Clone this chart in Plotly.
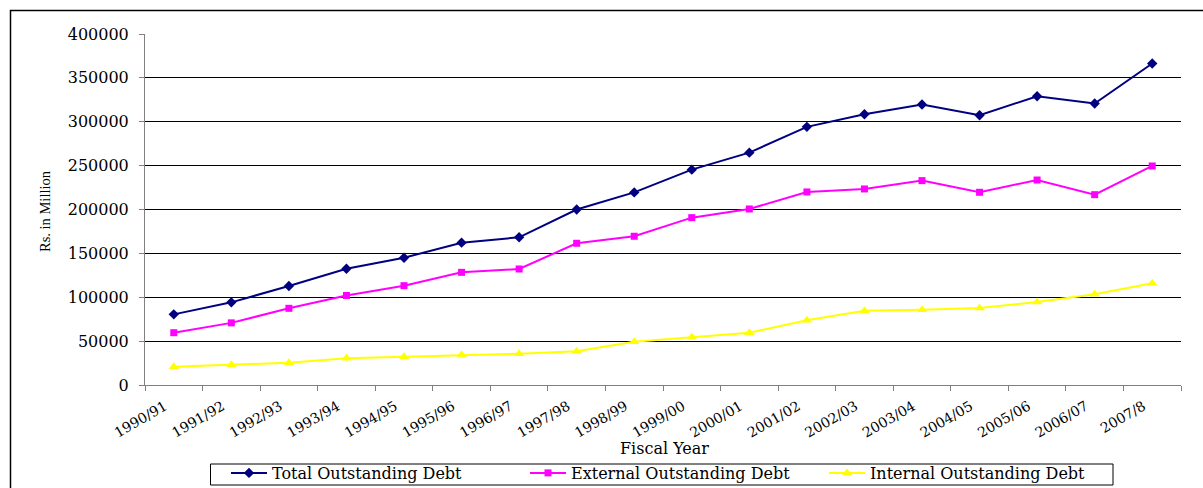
import plotly.graph_objects as go

years = ["1990/91", "1991/92", "1992/93", "1993/94", "1994/95", "1995/96", "1996/97",
         "1997/98", "1998/99", "1999/00", "2000/01", "2001/02", "2002/03", "2003/04",
         "2004/05", "2005/06", "2006/07", "2007/8"]
total_debt = [80500, 94200, 112800, 132500, 145000, 162200, 168300, 200000, 219500,
              245400, 264800, 294200, 308600, 319600, 307400, 329100, 320800, 366400]
external_debt = [59600, 70800, 87400, 102000, 113200, 128400, 132200, 161500, 169500,
                 190700, 200600, 220000, 223400, 232900, 219600, 233600, 216900, 249600]
internal_debt = [20900, 23200, 25400, 30600, 32300, 34200, 35700, 38500, 49400,
                 54400, 59600, 73700, 84700, 85800, 87700, 94600, 103300, 115900]

W, H = 1203, 488
L, R, T, B = 145, 22, 34, 103
pw, ph = W - L - R, H - T - B

def px_x(x):
    return (x - L) / pw

def px_y(y):
    return (H - B - y) / ph

fig = go.Figure()
fig.add_trace(go.Scatter(x=years, y=total_debt, name="Total Outstanding Debt",
                         mode="lines+markers",
                         line=dict(color="#000080", width=2),
                         marker=dict(symbol="diamond", size=8, color="#000080")))
fig.add_trace(go.Scatter(x=years, y=external_debt, name="External Outstanding Debt",
                         mode="lines+markers",
                         line=dict(color="#FF00FF", width=2),
                         marker=dict(symbol="square", size=7, color="#FF00FF")))
fig.add_trace(go.Scatter(x=years, y=internal_debt, name="Internal Outstanding Debt",
                         mode="lines+markers",
                         line=dict(color="#FFFF00", width=2),
                         marker=dict(symbol="triangle-up", size=9, color="#FFFF00")))

fig.update_layout(
    width=W, height=H,
    margin=dict(l=L, r=R, t=T, b=B, autoexpand=False),
    paper_bgcolor="white", plot_bgcolor="white",
    font=dict(family="DejaVu Serif", color="black"),
    showlegend=True,
    legend=dict(orientation="h", x=px_x(226), y=px_y(456), xanchor="left", yanchor="top",
                font=dict(family="DejaVu Serif", size=16, color="black"),
                bgcolor="rgba(0,0,0,0)", borderwidth=0, itemwidth=36,
                entrywidth=248, entrywidthmode="pixels", tracegroupgap=0),
    xaxis=dict(type="category", tickson="boundaries", ticks="outside", ticklen=5,
               tickcolor="#808080", showline=True, linecolor="#808080", linewidth=1,
               showgrid=False, tickangle=-30, ticklabelstandoff=7, ticklabelshift=-9,
               tickfont=dict(family="DejaVu Serif", size=14, color="black"),
               automargin=False, range=[-0.5, 17.5]),
    yaxis=dict(range=[0, 400000], dtick=50000, tickformat="d", ticks="outside",
               ticklen=5, tickcolor="#808080", showline=True, linecolor="#808080",
               linewidth=1, showgrid=True, gridcolor="black", gridwidth=1,
               zeroline=False, ticklabelstandoff=7,
               tickfont=dict(family="DejaVu Serif", size=16, color="black"),
               automargin=False),
    shapes=[
        dict(type="rect", xref="paper", yref="paper",
             x0=px_x(10.5), x1=px_x(1215), y0=px_y(500), y1=px_y(10.5),
             line=dict(color="black", width=1.5), fillcolor="rgba(0,0,0,0)", layer="above"),
        dict(type="rect", xref="paper", yref="paper",
             x0=px_x(210.5), x1=px_x(1113), y0=px_y(485), y1=px_y(464),
             line=dict(color="black", width=1), fillcolor="rgba(0,0,0,0)", layer="above"),
    ],
    annotations=[
        dict(text="Rs. in Million", xref="paper", yref="paper", x=px_x(45), y=px_y(211),
             xanchor="center", yanchor="middle", textangle=-90, showarrow=False,
             font=dict(family="Liberation Serif", size=14.5, color="black")),
        dict(text="Fiscal Year", xref="paper", yref="paper", x=px_x(664), y=px_y(448),
             xanchor="center", yanchor="middle", showarrow=False,
             font=dict(family="DejaVu Serif", size=16, color="black")),
    ],
)

fig.write_html("out.html")
